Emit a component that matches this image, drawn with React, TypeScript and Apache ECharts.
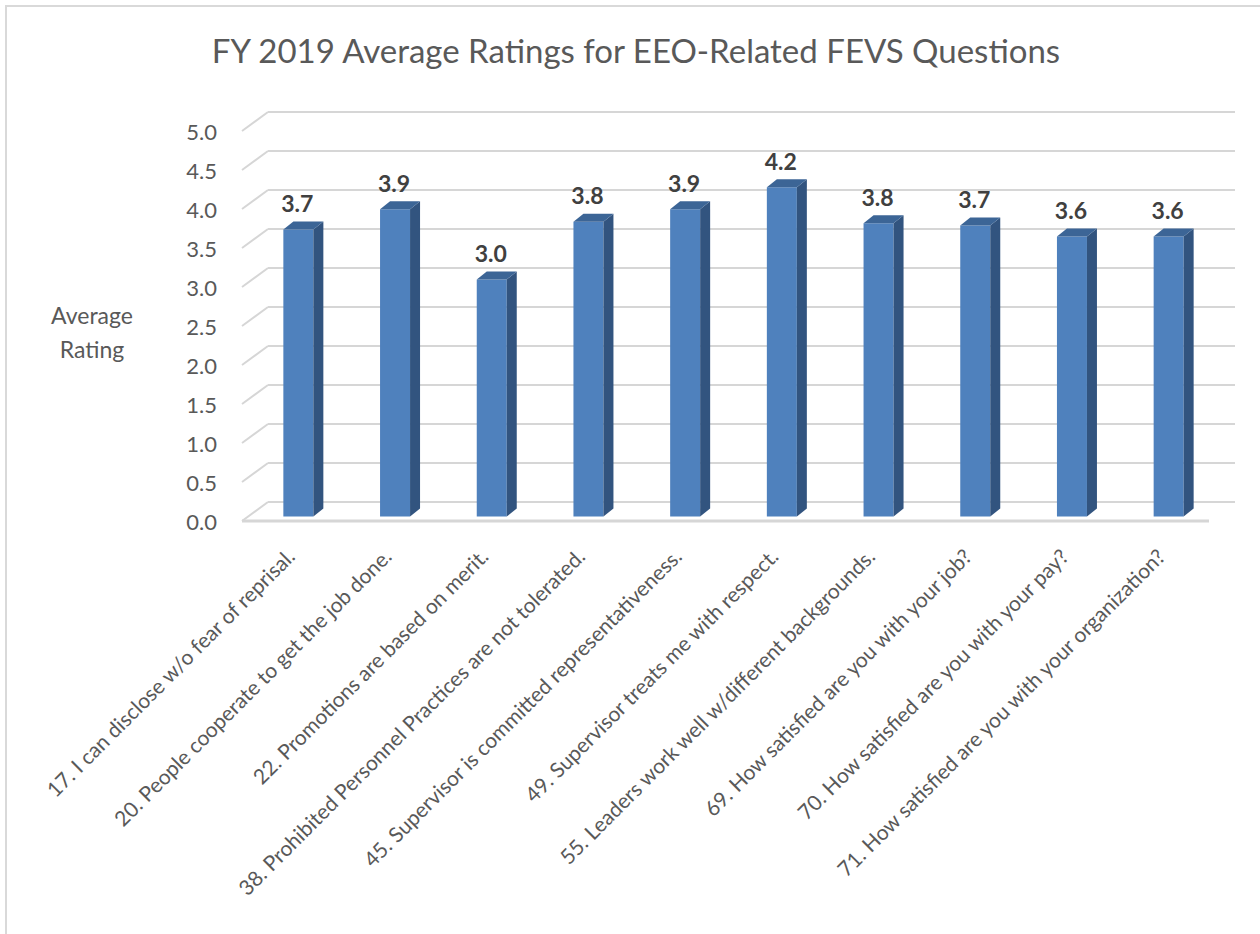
import React, { useEffect, useRef } from "react";
import * as echarts from "echarts";

const chartTitle = "FY 2019 Average Ratings for EEO-Related FEVS Questions";
const yAxisTitle = "Average\nRating";
const categories = [
  "17. I can disclose w/o fear of reprisal.",
  "20. People cooperate to get the job done.",
  "22. Promotions are based on merit.",
  "38. Prohibited Personnel Practices are not tolerated.",
  "45. Supervisor is committed representativeness.",
  "49. Supervisor treats me with respect.",
  "55. Leaders work well w/different backgrounds.",
  "69. How satisfied are you with your job?",
  "70. How satisfied are you with your pay?",
  "71. How satisfied are you with your organization?",
];
const ratings = [3.68, 3.94, 3.04, 3.78, 3.94, 4.22, 3.76, 3.73, 3.59, 3.59];
const yTicks = [0, 0.5, 1, 1.5, 2, 2.5, 3, 3.5, 4, 4.5, 5];

const FONT = "Lato, 'Noto Sans', sans-serif";
const TEXT = "#595959";
const GRID = "#d6d6d6";

export default function App() {
  const ref = useRef<HTMLDivElement>(null);
  useEffect(() => {
    document.body.style.margin = "0";
    const chart = echarts.init(ref.current!, null, { renderer: "svg" });
    const nCat = categories.length;
    const DEPTH_X = 26;
    const DEPTH_Y = 19;
    const BAR_SHIFT = 8;

    const option: any = {
      animation: false,
      backgroundColor: "#ffffff",
      textStyle: { fontFamily: FONT },
      grid: { left: 242, right: 51, top: 131, bottom: 413, containLabel: false },
      xAxis: {
        type: "category",
        data: categories,
        axisLine: { show: false },
        axisTick: { show: false },
        splitLine: { show: false },
        axisLabel: {
          interval: 0,
          rotate: 45,
          margin: 31,
          fontSize: 21,
          color: TEXT,
          fontFamily: FONT,
        },
      },
      yAxis: {
        type: "value",
        min: 0,
        max: 5,
        interval: 0.5,
        axisLine: { show: false },
        axisTick: { show: false },
        splitLine: { show: false },
        axisLabel: {
          margin: 25,
          fontSize: 22,
          color: TEXT,
          fontFamily: FONT,
          formatter: (v: number) => v.toFixed(1),
        },
      },
      graphic: [
        {
          type: "rect",
          shape: { x: 6, y: 6, width: 1400, height: 1100 },
          style: { fill: "none", stroke: "#d9d9d9", lineWidth: 2 },
          silent: true,
          z: -10,
        },
        {
          type: "text",
          x: 636,
          y: 50,
          style: {
            text: chartTitle,
            fontSize: 33,
            fill: TEXT,
            fontFamily: FONT,
            textAlign: "center",
            textVerticalAlign: "middle",
          },
        },
        {
          type: "text",
          x: 92,
          y: 332,
          style: {
            text: yAxisTitle,
            fontSize: 23,
            lineHeight: 34,
            fill: TEXT,
            fontFamily: FONT,
            textAlign: "center",
            textVerticalAlign: "middle",
          },
        },
      ],
      series: [
        {
          type: "custom",
          name: "walls",
          clip: false,
          silent: true,
          z: 1,
          encode: { x: 0, y: 1 },
          data: yTicks.map((t) => [0, t]),
          renderItem: (params: any, api: any) => {
            const v = api.value(1);
            const p = api.coord([0, v]);
            const band = api.size([1, 0])[0];
            const xl = p[0] - band / 2;
            const xr = xl + band * nCat;
            const yb = p[1] - DEPTH_Y;
            const children: any[] = [
              {
                type: "line",
                shape: { x1: xl, y1: p[1], x2: xl + DEPTH_X, y2: yb },
                style: { stroke: GRID, lineWidth: 2 },
              },
              {
                type: "line",
                shape: { x1: xl + DEPTH_X, y1: yb, x2: xr + DEPTH_X, y2: yb },
                style: { stroke: GRID, lineWidth: 2 },
              },
            ];
            if (v === 0) {
              children.push({
                type: "line",
                shape: { x1: xl, y1: p[1], x2: xr, y2: p[1] },
                style: { stroke: GRID, lineWidth: 3 },
              });
            }
            return { type: "group", children };
          },
        },
        {
          type: "custom",
          name: "Average Rating",
          clip: false,
          z: 2,
          encode: { x: 0, y: 1 },
          data: ratings.map((r, i) => [i, r]),
          renderItem: (params: any, api: any) => {
            const i = api.value(0);
            const v = api.value(1);
            const base = api.coord([i, 0]);
            const top = api.coord([i, v]);
            const bw = 30;
            const dx = 10;
            const dy = 8;
            const shiftY = 4.5;
            const cx = base[0] + BAR_SHIFT;
            const x0 = cx - bw / 2;
            const x1 = cx + bw / 2;
            const yb = base[1] - shiftY;
            const yt = top[1] - shiftY;
            return {
              type: "group",
              children: [
                {
                  type: "rect",
                  shape: { x: x0, y: yt, width: bw, height: yb - yt },
                  style: { fill: "#4F81BD" },
                },
                {
                  type: "polygon",
                  shape: { points: [[x1, yb], [x1, yt], [x1 + dx, yt - dy], [x1 + dx, yb - dy]] },
                  style: { fill: "#32547f" },
                },
                {
                  type: "polygon",
                  shape: { points: [[x0, yt], [x1, yt], [x1 + dx, yt - dy], [x0 + dx, yt - dy]] },
                  style: { fill: "#3c6596" },
                },
                {
                  type: "text",
                  x: cx - 1,
                  y: yt - dy - 7,
                  style: {
                    text: v.toFixed(1),
                    fontSize: 23,
                    fontWeight: "bold",
                    fill: "#404040",
                    fontFamily: FONT,
                    textAlign: "center",
                    textVerticalAlign: "bottom",
                  },
                },
              ],
            };
          },
        },
      ],
    };
    chart.setOption(option);
    return () => chart.dispose();
  }, []);
  return <div ref={ref} style={{ width: 1260, height: 934 }} />;
}
